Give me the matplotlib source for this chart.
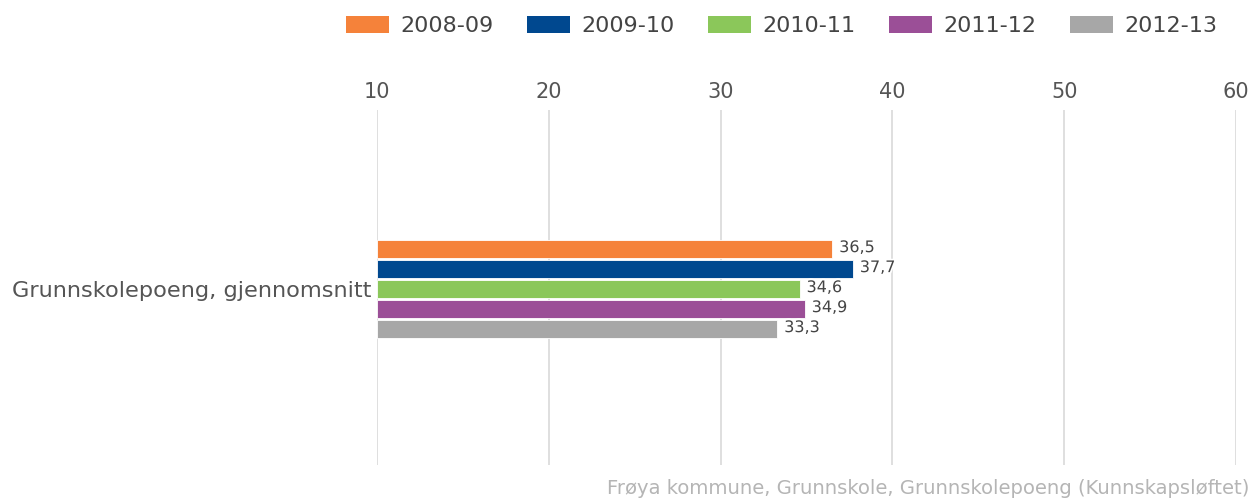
import matplotlib
matplotlib.use("Agg")
import matplotlib.pyplot as plt
import matplotlib.patheffects as pe
from matplotlib.patches import Patch

category = "Grunnskolepoeng, gjennomsnitt"
years = ["2008-09", "2009-10", "2010-11", "2011-12", "2012-13"]
values = [36.5, 37.7, 34.6, 34.9, 33.3]
labels = ["36,5", "37,7", "34,6", "34,9", "33,3"]
colors = ["#f5823a", "#00488f", "#8bc75a", "#9b4f97", "#a7a7a7"]
xticks = [10, 20, 30, 40, 50, 60]

plt.rcParams['font.family'] = ['DejaVu Sans']

W, H = 1252, 498
fig = plt.figure(figsize=(W / 100, H / 100), dpi=100)
ax = fig.add_axes([377 / W, 1 - 465 / H, (1236 - 377) / W, (465 - 110) / H])

xmin = 10
pitch = 1.0
bh = 0.9
n = len(values)
offsets = [(i - (n - 1) / 2) * pitch for i in range(n)]
for off, v, c, lab in zip(offsets, values, colors, labels):
    ax.barh(off, v - xmin, left=xmin, height=bh, color=c, edgecolor='white', linewidth=0.6, zorder=3)
    t = ax.annotate(lab, xy=(v, off), xytext=(5, 1), textcoords='offset points',
                    ha='left', va='center', fontsize=11.5, color='#444444', zorder=4)
    t.set_path_effects([pe.withStroke(linewidth=2.5, foreground='white')])

half = (465 - 110) / 20 / 2
ax.set_ylim(half - 0.075, -half - 0.075)
ax.set_xlim(10, 60)
ax.set_xticks(xticks)
ax.set_xticklabels([str(x) for x in xticks])
ax.xaxis.tick_top()
ax.tick_params(axis='x', length=0, pad=6, labelsize=15, labelcolor='#555555')
ax.set_yticks([0])
ax.set_yticklabels([category])
ax.tick_params(axis='y', length=0, pad=4, labelsize=16.2, labelcolor='#555555')
ax.grid(axis='x', color='#d9d9d9', linewidth=1.2, zorder=0)
for s in ax.spines.values():
    s.set_visible(False)

handles = [Patch(facecolor=c, edgecolor='none') for c in colors]
fig.legend(handles, years, ncol=5, loc='center right', bbox_to_anchor=(1217 / W, 1 - 26 / H),
           frameon=False, fontsize=16, handlelength=1.95, handleheight=0.82,
           handletextpad=0.5, columnspacing=1.5, labelcolor='#444444',
           borderaxespad=0, borderpad=0)

fig.text(1249 / W, 1 - 488 / H, "Frøya kommune, Grunnskole, Grunnskolepoeng (Kunnskapsløftet)",
         ha='right', va='center', fontsize=14.1, color='#b5b5b5')

fig.savefig("out.png", dpi=100)
